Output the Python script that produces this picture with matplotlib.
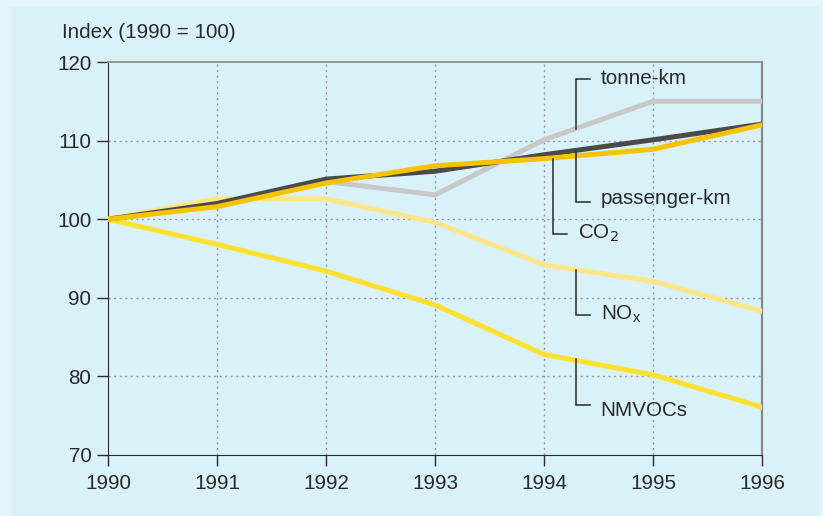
import matplotlib.pyplot as plt
from matplotlib.patches import Rectangle

plt.rcParams['font.family'] = ['Liberation Sans', 'DejaVu Sans']

years = [1990, 1991, 1992, 1993, 1994, 1995, 1996]
tonne_km = [100, 102, 104.8, 103.1, 110.1, 115, 115]
passenger_km = [100, 102, 105.1, 106.1, 108.2, 110.1, 112.1]
co2 = [100, 101.6, 104.6, 106.8, 107.7, 108.9, 112]
nox = [100, 102.6, 102.6, 99.6, 94.2, 92.1, 88.3]
nmvocs = [100, 96.8, 93.4, 89.1, 82.8, 80.2, 76.1]

# label: (x of vertical, y start, y end, x end of horizontal, text x, text y, text)
callouts = [
    (1994.29, 111.5, 117.8, 1994.42, 1994.52, 117.9, 'tonne-km'),
    (1994.29, 108.5, 102.2, 1994.42, 1994.52, 102.6, 'passenger-km'),
    (1994.08, 107.7, 98.1, 1994.21, 1994.31, 98.2, 'CO$_2$'),
    (1994.29, 93.6, 87.8, 1994.42, 1994.52, 87.9, 'NO$_\\mathregular{x}$'),
    (1994.29, 82.2, 76.4, 1994.42, 1994.52, 75.6, 'NMVOCs'),
]

fs = 14.9
ink = '#2a2a2a'

fig = plt.figure(figsize=(8.23, 5.16), dpi=100)
fig.patch.set_facecolor('#e3f5fb')
fig.patches.append(Rectangle((11 / 823, 0), 809 / 823, 1 - 7 / 516,
                             transform=fig.transFigure, facecolor='#d9f1f9',
                             edgecolor='none', zorder=-5))

ax = fig.add_axes([108 / 823, 1 - 455 / 516, 654 / 823, (455 - 62) / 516])
ax.set_facecolor('#d9f1f9')

lw = 3.6
ax.plot(years, tonne_km, color='#c8c8c8', lw=lw, solid_joinstyle='miter', zorder=3)
ax.plot(years, nox, color='#fde68a', lw=lw, solid_joinstyle='miter', zorder=3)
ax.plot(years, nmvocs, color='#fde030', lw=lw, solid_joinstyle='miter', zorder=3)
ax.plot(years, passenger_km, color='#4a4a4a', lw=lw, solid_joinstyle='miter', zorder=4)
ax.plot(years, co2, color='#f7c300', lw=lw, solid_joinstyle='miter', zorder=5)

for xv, y0, y1, xh, tx, ty, label in callouts:
    ax.plot([xv, xv, xh], [y0, y1, y1], color=ink, lw=1.1, zorder=6,
            solid_joinstyle='miter')
    ax.text(tx, ty, label, fontsize=fs, color=ink, va='center',
            ha='left', zorder=7)

ax.set_xlim(1990, 1996)
ax.set_ylim(70, 120)
ax.set_xticks(years)
ax.set_yticks([70, 80, 90, 100, 110, 120])
ax.tick_params(direction='out', length=8, width=1, colors=ink,
               labelsize=fs, pad=4)
ax.tick_params(axis='x', pad=6)

for y in [80, 90, 100, 110]:
    ax.axhline(y, color='#999999', lw=1, ls=(0, (1.5, 2.5)), zorder=1)
for x in years[1:-1]:
    ax.axvline(x, color='#999999', lw=1, ls=(0, (1.5, 2.5)), zorder=1)

ax.spines['left'].set_color(ink)
ax.spines['bottom'].set_color(ink)
ax.spines['top'].set_color('#888888')
ax.spines['right'].set_color('#888888')
ax.spines['right'].set_linewidth(1.6)
ax.spines['top'].set_linewidth(1.2)

fig.text(62 / 823, 1 - 32 / 516, 'Index (1990 = 100)', fontsize=fs,
         color=ink, va='center', ha='left')

fig.savefig('out.png', dpi=100, facecolor=fig.get_facecolor())
